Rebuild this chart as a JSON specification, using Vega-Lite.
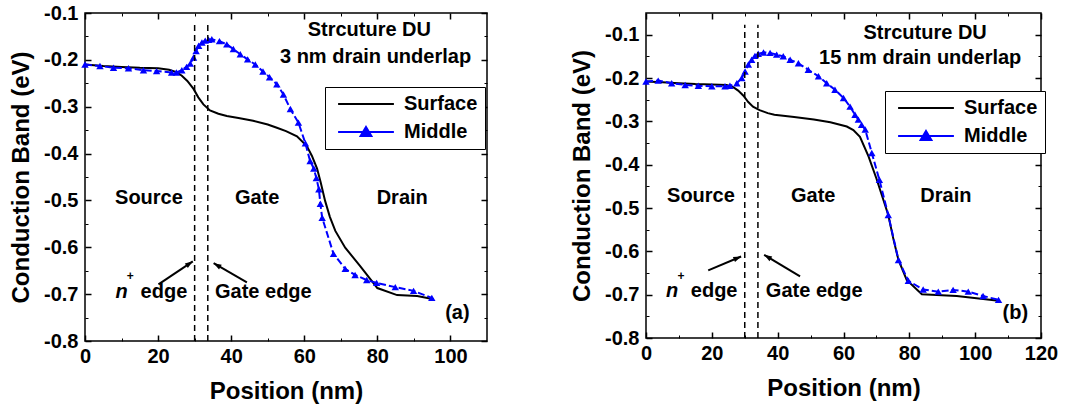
{
  "$schema": "https://vega.github.io/schema/vega-lite/v6.json",
  "background": "white",
  "padding": {"left": 8, "top": 2, "right": 0, "bottom": 0},
  "bounds": "flush",
  "spacing": 159,
  "datasets": {
    "a": [
      {"x": 0, "y": -0.210, "series": "Surface"}, {"x": 5, "y": -0.213, "series": "Surface"}, {"x": 10, "y": -0.215, "series": "Surface"}, {"x": 15, "y": -0.217, "series": "Surface"}, {"x": 20, "y": -0.218, "series": "Surface"}, {"x": 23, "y": -0.221, "series": "Surface"}, {"x": 25, "y": -0.226, "series": "Surface"}, {"x": 26.5, "y": -0.234, "series": "Surface"}, {"x": 28, "y": -0.245, "series": "Surface"}, {"x": 29.7, "y": -0.262, "series": "Surface"}, {"x": 31, "y": -0.280, "series": "Surface"}, {"x": 32.4, "y": -0.295, "series": "Surface"}, {"x": 34.2, "y": -0.308, "series": "Surface"}, {"x": 36.5, "y": -0.315, "series": "Surface"}, {"x": 38.8, "y": -0.320, "series": "Surface"}, {"x": 42, "y": -0.324, "series": "Surface"}, {"x": 46, "y": -0.330, "series": "Surface"}, {"x": 50, "y": -0.338, "series": "Surface"}, {"x": 52.5, "y": -0.345, "series": "Surface"}, {"x": 55, "y": -0.352, "series": "Surface"}, {"x": 58, "y": -0.363, "series": "Surface"}, {"x": 60.7, "y": -0.384, "series": "Surface"}, {"x": 62.1, "y": -0.405, "series": "Surface"}, {"x": 63.5, "y": -0.432, "series": "Surface"}, {"x": 64.5, "y": -0.462, "series": "Surface"}, {"x": 65.7, "y": -0.501, "series": "Surface"}, {"x": 67, "y": -0.535, "series": "Surface"}, {"x": 68.5, "y": -0.565, "series": "Surface"}, {"x": 71.2, "y": -0.601, "series": "Surface"}, {"x": 75.3, "y": -0.640, "series": "Surface"}, {"x": 80, "y": -0.687, "series": "Surface"}, {"x": 85.4, "y": -0.702, "series": "Surface"}, {"x": 90.9, "y": -0.704, "series": "Surface"}, {"x": 95.4, "y": -0.711, "series": "Surface"},
      {"x": 0, "y": -0.210, "series": "Middle"}, {"x": 4.1, "y": -0.213, "series": "Middle"}, {"x": 7.8, "y": -0.217, "series": "Middle"}, {"x": 11.9, "y": -0.218, "series": "Middle"}, {"x": 16, "y": -0.222, "series": "Middle"}, {"x": 19.6, "y": -0.224, "series": "Middle"}, {"x": 23.7, "y": -0.227, "series": "Middle"}, {"x": 25, "y": -0.227, "series": "Middle"}, {"x": 26.5, "y": -0.222, "series": "Middle"}, {"x": 27.8, "y": -0.215, "series": "Middle"}, {"x": 28.8, "y": -0.208, "series": "Middle"}, {"x": 29.7, "y": -0.195, "series": "Middle"}, {"x": 30.4, "y": -0.181, "series": "Middle"}, {"x": 31.1, "y": -0.170, "series": "Middle"}, {"x": 32, "y": -0.163, "series": "Middle"}, {"x": 32.9, "y": -0.159, "series": "Middle"}, {"x": 33.8, "y": -0.157, "series": "Middle"}, {"x": 34.7, "y": -0.156, "series": "Middle"}, {"x": 36.8, "y": -0.160, "series": "Middle"}, {"x": 38.8, "y": -0.167, "series": "Middle"}, {"x": 40.6, "y": -0.177, "series": "Middle"}, {"x": 42.5, "y": -0.188, "series": "Middle"}, {"x": 44.5, "y": -0.199, "series": "Middle"}, {"x": 46.6, "y": -0.210, "series": "Middle"}, {"x": 48.7, "y": -0.225, "series": "Middle"}, {"x": 50.5, "y": -0.237, "series": "Middle"}, {"x": 52.5, "y": -0.252, "series": "Middle"}, {"x": 54.3, "y": -0.274, "series": "Middle"}, {"x": 56.2, "y": -0.305, "series": "Middle"}, {"x": 58.4, "y": -0.334, "series": "Middle"}, {"x": 60.3, "y": -0.378, "series": "Middle"}, {"x": 61.6, "y": -0.416, "series": "Middle"}, {"x": 62.6, "y": -0.432, "series": "Middle"}, {"x": 63.3, "y": -0.452, "series": "Middle"}, {"x": 64, "y": -0.476, "series": "Middle"}, {"x": 64.4, "y": -0.507, "series": "Middle"}, {"x": 64.9, "y": -0.537, "series": "Middle"}, {"x": 68, "y": -0.614, "series": "Middle"}, {"x": 71.2, "y": -0.646, "series": "Middle"}, {"x": 73.9, "y": -0.659, "series": "Middle"}, {"x": 77.1, "y": -0.670, "series": "Middle"}, {"x": 79.8, "y": -0.676, "series": "Middle"}, {"x": 84.9, "y": -0.685, "series": "Middle"}, {"x": 89.9, "y": -0.693, "series": "Middle"}, {"x": 94.9, "y": -0.708, "series": "Middle"}
    ],
    "b": [
      {"x": 0, "y": -0.208, "series": "Surface"}, {"x": 5, "y": -0.210, "series": "Surface"}, {"x": 10, "y": -0.212, "series": "Surface"}, {"x": 15, "y": -0.214, "series": "Surface"}, {"x": 20, "y": -0.215, "series": "Surface"}, {"x": 24.5, "y": -0.216, "series": "Surface"}, {"x": 26.5, "y": -0.221, "series": "Surface"}, {"x": 28, "y": -0.229, "series": "Surface"}, {"x": 29.6, "y": -0.241, "series": "Surface"}, {"x": 31, "y": -0.255, "series": "Surface"}, {"x": 32.5, "y": -0.266, "series": "Surface"}, {"x": 34.5, "y": -0.274, "series": "Surface"}, {"x": 37, "y": -0.281, "series": "Surface"}, {"x": 39, "y": -0.285, "series": "Surface"}, {"x": 45, "y": -0.290, "series": "Surface"}, {"x": 51, "y": -0.296, "series": "Surface"}, {"x": 56, "y": -0.302, "series": "Surface"}, {"x": 61, "y": -0.312, "series": "Surface"}, {"x": 63, "y": -0.320, "series": "Surface"}, {"x": 65, "y": -0.336, "series": "Surface"}, {"x": 67.6, "y": -0.381, "series": "Surface"}, {"x": 70, "y": -0.432, "series": "Surface"}, {"x": 72.1, "y": -0.481, "series": "Surface"}, {"x": 73.6, "y": -0.516, "series": "Surface"}, {"x": 75.2, "y": -0.573, "series": "Surface"}, {"x": 76.7, "y": -0.620, "series": "Surface"}, {"x": 79.2, "y": -0.666, "series": "Surface"}, {"x": 83.8, "y": -0.699, "series": "Surface"}, {"x": 94.4, "y": -0.703, "series": "Surface"}, {"x": 107.1, "y": -0.714, "series": "Surface"},
      {"x": 0, "y": -0.208, "series": "Middle"}, {"x": 3.7, "y": -0.206, "series": "Middle"}, {"x": 7.8, "y": -0.212, "series": "Middle"}, {"x": 11.9, "y": -0.216, "series": "Middle"}, {"x": 15.9, "y": -0.218, "series": "Middle"}, {"x": 20, "y": -0.219, "series": "Middle"}, {"x": 24, "y": -0.219, "series": "Middle"}, {"x": 25.5, "y": -0.218, "series": "Middle"}, {"x": 27.6, "y": -0.212, "series": "Middle"}, {"x": 29.1, "y": -0.200, "series": "Middle"}, {"x": 30.1, "y": -0.185, "series": "Middle"}, {"x": 31.1, "y": -0.169, "series": "Middle"}, {"x": 32.1, "y": -0.158, "series": "Middle"}, {"x": 33.1, "y": -0.149, "series": "Middle"}, {"x": 34.1, "y": -0.144, "series": "Middle"}, {"x": 35.7, "y": -0.141, "series": "Middle"}, {"x": 37.7, "y": -0.142, "series": "Middle"}, {"x": 39.7, "y": -0.146, "series": "Middle"}, {"x": 41.7, "y": -0.150, "series": "Middle"}, {"x": 43.8, "y": -0.158, "series": "Middle"}, {"x": 46.3, "y": -0.166, "series": "Middle"}, {"x": 49.3, "y": -0.181, "series": "Middle"}, {"x": 52.4, "y": -0.196, "series": "Middle"}, {"x": 54.9, "y": -0.212, "series": "Middle"}, {"x": 57.4, "y": -0.227, "series": "Middle"}, {"x": 60, "y": -0.246, "series": "Middle"}, {"x": 62, "y": -0.266, "series": "Middle"}, {"x": 63.5, "y": -0.285, "series": "Middle"}, {"x": 64.5, "y": -0.296, "series": "Middle"}, {"x": 65.5, "y": -0.308, "series": "Middle"}, {"x": 66.6, "y": -0.319, "series": "Middle"}, {"x": 68.6, "y": -0.373, "series": "Middle"}, {"x": 70.9, "y": -0.435, "series": "Middle"}, {"x": 73.6, "y": -0.516, "series": "Middle"}, {"x": 76.7, "y": -0.620, "series": "Middle"}, {"x": 79.7, "y": -0.668, "series": "Middle"}, {"x": 84.2, "y": -0.688, "series": "Middle"}, {"x": 88.8, "y": -0.693, "series": "Middle"}, {"x": 93.3, "y": -0.689, "series": "Middle"}, {"x": 97.9, "y": -0.693, "series": "Middle"}, {"x": 102.4, "y": -0.703, "series": "Middle"}, {"x": 107.1, "y": -0.712, "series": "Middle"}
    ],
    "edgesA": [{"x": 30, "y": -0.8, "y2": -0.124}, {"x": 33.6, "y": -0.8, "y2": -0.124}],
    "edgesB": [{"x": 30, "y": -0.8, "y2": -0.077}, {"x": 34, "y": -0.8, "y2": -0.077}],
    "arrowsA": [{"id": "nplus", "x": 20.1, "y": -0.679, "x2": 29.5, "y2": -0.630}, {"id": "gate", "x": 44.3, "y": -0.675, "x2": 35.2, "y2": -0.634}],
    "arrowsB": [{"id": "nplus", "x": 18.9, "y": -0.644, "x2": 28.9, "y2": -0.612}, {"id": "gate", "x": 46.8, "y": -0.658, "x2": 35.9, "y2": -0.608}],
    "textA": [
      {"kind": "main", "label": "Strcuture DU", "x": 77.8, "y": -0.149},
      {"kind": "main", "label": "3 nm drain underlap", "x": 79.5, "y": -0.206},
      {"kind": "main", "label": "Source", "x": 17.5, "y": -0.507},
      {"kind": "main", "label": "Gate", "x": 47.1, "y": -0.507},
      {"kind": "main", "label": "Drain", "x": 86.8, "y": -0.507},
      {"kind": "main", "label": "edge", "x": 21.6, "y": -0.708},
      {"kind": "main", "label": "Gate edge", "x": 48.8, "y": -0.708},
      {"kind": "main", "label": "(a)", "x": 101.9, "y": -0.754},
      {"kind": "italic", "label": "n", "x": 10, "y": -0.708},
      {"kind": "sup", "label": "+", "x": 12.4, "y": -0.670}
    ],
    "textB": [
      {"kind": "main", "label": "Strcuture DU", "x": 84.8, "y": -0.110},
      {"kind": "main", "label": "15 nm drain underlap", "x": 83.3, "y": -0.167},
      {"kind": "main", "label": "Source", "x": 16.7, "y": -0.487},
      {"kind": "main", "label": "Gate", "x": 50.8, "y": -0.487},
      {"kind": "main", "label": "Drain", "x": 91.1, "y": -0.487},
      {"kind": "main", "label": "edge", "x": 20.7, "y": -0.705},
      {"kind": "main", "label": "Gate edge", "x": 51.1, "y": -0.705},
      {"kind": "main", "label": "(b)", "x": 112.2, "y": -0.756},
      {"kind": "italic", "label": "n", "x": 7.9, "y": -0.705},
      {"kind": "sup", "label": "+", "x": 10.6, "y": -0.665}
    ]
  },
  "hconcat": [
    {
      "width": 402,
      "height": 328,
      "resolve": {"axis": {"x": "independent", "y": "independent"}},
      "layer": [
        {
          "data": {"name": "a"},
          "transform": [{"filter": "datum.series === 'Surface'"}],
          "mark": {"type": "line", "strokeWidth": 2},
          "encoding": {
            "x": {"field": "x", "type": "quantitative", "scale": {"domain": [0, 110], "nice": false, "zero": false},
              "axis": {"orient": "bottom", "values": [0, 20, 40, 60, 80, 100], "tickSize": -6, "labelPadding": 11, "labelFlush": false, "title": "Position (nm)", "titlePadding": 13}},
            "y": {"field": "y", "type": "quantitative", "scale": {"domain": [-0.8, -0.1], "nice": false, "zero": false},
              "axis": {"orient": "left", "values": [-0.8, -0.7, -0.6, -0.5, -0.4, -0.3, -0.2, -0.1], "tickSize": -6, "labelPadding": 13, "labelFlush": false, "labelExpr": "'-' + format(abs(datum.value), '.1f')", "title": "Conduction Band (eV)", "titlePadding": 10}},
            "color": {"field": "series", "type": "nominal", "scale": {"domain": ["Surface", "Middle"], "range": ["black", "blue"]},
              "legend": {"orient": "none", "legendX": 240, "legendY": 74, "title": null, "padding": 7, "rowPadding": 8, "symbolSize": 324, "symbolOffset": 24, "labelOffset": 28,
                "labelFont": "Liberation Sans", "labelFontSize": 20, "labelFontWeight": "bold", "labelColor": "black", "strokeColor": "black", "fillColor": "white", "cornerRadius": 0,
                "encode": {"symbols": {"update": {
                  "shape": {"signal": "datum.value === 'Middle' ? 'M-3.1,0H3.1M0,-0.55L0.6,0.45H-0.6Z' : 'M-3.1,0H3.1'"},
                  "fill": {"signal": "datum.value === 'Middle' ? 'blue' : 'transparent'"},
                  "stroke": {"signal": "datum.value === 'Middle' ? 'blue' : 'black'"},
                  "strokeWidth": {"value": 2}, "opacity": {"value": 1}}}}}}
          }
        },
        {
          "data": {"name": "a"},
          "transform": [{"filter": "datum.series === 'Middle'"}],
          "mark": {"type": "line", "strokeWidth": 2, "color": "blue", "strokeDash": [7, 3]},
          "encoding": {
            "x": {"field": "x", "type": "quantitative", "scale": {"domain": [0, 110], "nice": false, "zero": false}, "axis": null},
            "y": {"field": "y", "type": "quantitative", "scale": {"domain": [-0.8, -0.1], "nice": false, "zero": false}, "axis": null}
          }
        },
        {
          "data": {"name": "a"},
          "transform": [{"filter": "datum.series === 'Middle'"}],
          "mark": {"type": "point", "shape": "triangle-up", "filled": true, "size": 55, "opacity": 1, "color": "blue"},
          "encoding": {
            "x": {"field": "x", "type": "quantitative", "scale": {"domain": [0, 110], "nice": false, "zero": false},
              "axis": {"orient": "bottom", "values": [10, 30, 50, 70, 90], "tickSize": -3, "tickWidth": 1, "labels": false, "title": null}},
            "y": {"field": "y", "type": "quantitative", "scale": {"domain": [-0.8, -0.1], "nice": false, "zero": false},
              "axis": {"orient": "left", "values": [-0.75, -0.65, -0.55, -0.45, -0.35, -0.25, -0.15], "tickSize": -3, "tickWidth": 1, "labels": false, "title": null}}
          }
        },
        {
          "data": {"name": "edgesA"},
          "mark": {"type": "rule", "color": "black", "strokeWidth": 1.5, "strokeDash": [6, 4]},
          "encoding": {
            "x": {"field": "x", "type": "quantitative", "scale": {"domain": [0, 110], "nice": false, "zero": false},
              "axis": {"orient": "top", "values": [0, 20, 40, 60, 80, 100], "tickSize": -6, "labels": false, "title": null}},
            "y": {"field": "y", "type": "quantitative", "scale": {"domain": [-0.8, -0.1], "nice": false, "zero": false},
              "axis": {"orient": "right", "values": [-0.8, -0.7, -0.6, -0.5, -0.4, -0.3, -0.2, -0.1], "tickSize": -6, "labels": false, "title": null}},
            "y2": {"field": "y2"}
          }
        },
        {
          "data": {"name": "arrowsA"},
          "mark": {"type": "rule", "color": "black", "strokeWidth": 2},
          "encoding": {
            "x": {"field": "x", "type": "quantitative", "scale": {"domain": [0, 110], "nice": false, "zero": false},
              "axis": {"orient": "top", "values": [10, 30, 50, 70, 90], "tickSize": -3, "tickWidth": 1, "labels": false, "title": null}},
            "y": {"field": "y", "type": "quantitative", "scale": {"domain": [-0.8, -0.1], "nice": false, "zero": false},
              "axis": {"orient": "right", "values": [-0.75, -0.65, -0.55, -0.45, -0.35, -0.25, -0.15], "tickSize": -3, "tickWidth": 1, "labels": false, "title": null}},
            "x2": {"field": "x2"},
            "y2": {"field": "y2"}
          }
        },
        {
          "data": {"name": "arrowsA"},
          "transform": [{"filter": "datum.id === 'nplus'"}],
          "mark": {"type": "point", "shape": "M0,0L0.45,1.3L-0.45,1.3Z", "filled": true, "color": "black", "size": 144, "opacity": 1, "angle": 56},
          "encoding": {
            "x": {"field": "x2", "type": "quantitative", "scale": {"domain": [0, 110], "nice": false, "zero": false}, "axis": null},
            "y": {"field": "y2", "type": "quantitative", "scale": {"domain": [-0.8, -0.1], "nice": false, "zero": false}, "axis": null}
          }
        },
        {
          "data": {"name": "arrowsA"},
          "transform": [{"filter": "datum.id === 'gate'"}],
          "mark": {"type": "point", "shape": "M0,0L0.45,1.3L-0.45,1.3Z", "filled": true, "color": "black", "size": 144, "opacity": 1, "angle": 300},
          "encoding": {
            "x": {"field": "x2", "type": "quantitative", "scale": {"domain": [0, 110], "nice": false, "zero": false}, "axis": null},
            "y": {"field": "y2", "type": "quantitative", "scale": {"domain": [-0.8, -0.1], "nice": false, "zero": false}, "axis": null}
          }
        },
        {
          "data": {"name": "textA"},
          "transform": [{"filter": "datum.kind === 'main'"}],
          "mark": {"type": "text", "font": "Liberation Sans", "fontSize": 20, "fontWeight": "bold", "color": "black", "align": "center", "baseline": "alphabetic"},
          "encoding": {
            "x": {"field": "x", "type": "quantitative", "scale": {"domain": [0, 110], "nice": false, "zero": false}, "axis": null},
            "y": {"field": "y", "type": "quantitative", "scale": {"domain": [-0.8, -0.1], "nice": false, "zero": false}, "axis": null},
            "text": {"field": "label"}
          }
        },
        {
          "data": {"name": "textA"},
          "transform": [{"filter": "datum.kind === 'italic'"}],
          "mark": {"type": "text", "font": "Liberation Sans", "fontSize": 20, "fontWeight": "bold", "fontStyle": "italic", "color": "black", "align": "center", "baseline": "alphabetic"},
          "encoding": {
            "x": {"field": "x", "type": "quantitative", "scale": {"domain": [0, 110], "nice": false, "zero": false}, "axis": null},
            "y": {"field": "y", "type": "quantitative", "scale": {"domain": [-0.8, -0.1], "nice": false, "zero": false}, "axis": null},
            "text": {"field": "label"}
          }
        },
        {
          "data": {"name": "textA"},
          "transform": [{"filter": "datum.kind === 'sup'"}],
          "mark": {"type": "text", "font": "Liberation Sans", "fontSize": 12, "fontWeight": "bold", "color": "black", "align": "center", "baseline": "alphabetic"},
          "encoding": {
            "x": {"field": "x", "type": "quantitative", "scale": {"domain": [0, 110], "nice": false, "zero": false}, "axis": null},
            "y": {"field": "y", "type": "quantitative", "scale": {"domain": [-0.8, -0.1], "nice": false, "zero": false}, "axis": null},
            "text": {"field": "label"}
          }
        }
      ]
    },
    {
      "width": 395,
      "height": 325,
      "resolve": {"axis": {"x": "independent", "y": "independent"}},
      "layer": [
        {
          "data": {"name": "b"},
          "transform": [{"filter": "datum.series === 'Surface'"}],
          "mark": {"type": "line", "strokeWidth": 2},
          "encoding": {
            "x": {"field": "x", "type": "quantitative", "scale": {"domain": [0, 120], "nice": false, "zero": false},
              "axis": {"orient": "bottom", "values": [0, 20, 40, 60, 80, 100, 120], "tickSize": -6, "labelPadding": 11, "labelFlush": false, "title": "Position (nm)", "titlePadding": 13}},
            "y": {"field": "y", "type": "quantitative", "scale": {"domain": [-0.8, -0.05], "nice": false, "zero": false},
              "axis": {"orient": "left", "values": [-0.8, -0.7, -0.6, -0.5, -0.4, -0.3, -0.2, -0.1], "tickSize": -6, "labelPadding": 13, "labelFlush": false, "labelExpr": "'-' + format(abs(datum.value), '.1f')", "title": "Conduction Band (eV)", "titlePadding": 10}},
            "color": {"field": "series", "type": "nominal", "scale": {"domain": ["Surface", "Middle"], "range": ["black", "blue"]},
              "legend": {"orient": "none", "legendX": 239, "legendY": 78, "title": null, "padding": 7, "rowPadding": 8, "symbolSize": 324, "symbolOffset": 24, "labelOffset": 28,
                "labelFont": "Liberation Sans", "labelFontSize": 20, "labelFontWeight": "bold", "labelColor": "black", "strokeColor": "black", "fillColor": "white", "cornerRadius": 0,
                "encode": {"symbols": {"update": {
                  "shape": {"signal": "datum.value === 'Middle' ? 'M-3.1,0H3.1M0,-0.55L0.6,0.45H-0.6Z' : 'M-3.1,0H3.1'"},
                  "fill": {"signal": "datum.value === 'Middle' ? 'blue' : 'transparent'"},
                  "stroke": {"signal": "datum.value === 'Middle' ? 'blue' : 'black'"},
                  "strokeWidth": {"value": 2}, "opacity": {"value": 1}}}}}}
          }
        },
        {
          "data": {"name": "b"},
          "transform": [{"filter": "datum.series === 'Middle'"}],
          "mark": {"type": "line", "strokeWidth": 2, "color": "blue", "strokeDash": [7, 3]},
          "encoding": {
            "x": {"field": "x", "type": "quantitative", "scale": {"domain": [0, 120], "nice": false, "zero": false}, "axis": null},
            "y": {"field": "y", "type": "quantitative", "scale": {"domain": [-0.8, -0.05], "nice": false, "zero": false}, "axis": null}
          }
        },
        {
          "data": {"name": "b"},
          "transform": [{"filter": "datum.series === 'Middle'"}],
          "mark": {"type": "point", "shape": "triangle-up", "filled": true, "size": 55, "opacity": 1, "color": "blue"},
          "encoding": {
            "x": {"field": "x", "type": "quantitative", "scale": {"domain": [0, 120], "nice": false, "zero": false},
              "axis": {"orient": "bottom", "values": [10, 30, 50, 70, 90, 110], "tickSize": -3, "tickWidth": 1, "labels": false, "title": null}},
            "y": {"field": "y", "type": "quantitative", "scale": {"domain": [-0.8, -0.05], "nice": false, "zero": false},
              "axis": {"orient": "left", "values": [-0.75, -0.65, -0.55, -0.45, -0.35, -0.25, -0.15], "tickSize": -3, "tickWidth": 1, "labels": false, "title": null}}
          }
        },
        {
          "data": {"name": "edgesB"},
          "mark": {"type": "rule", "color": "black", "strokeWidth": 1.5, "strokeDash": [6, 4]},
          "encoding": {
            "x": {"field": "x", "type": "quantitative", "scale": {"domain": [0, 120], "nice": false, "zero": false},
              "axis": {"orient": "top", "values": [0, 20, 40, 60, 80, 100, 120], "tickSize": -6, "labels": false, "title": null}},
            "y": {"field": "y", "type": "quantitative", "scale": {"domain": [-0.8, -0.05], "nice": false, "zero": false},
              "axis": {"orient": "right", "values": [-0.8, -0.7, -0.6, -0.5, -0.4, -0.3, -0.2, -0.1], "tickSize": -6, "labels": false, "title": null}},
            "y2": {"field": "y2"}
          }
        },
        {
          "data": {"name": "arrowsB"},
          "mark": {"type": "rule", "color": "black", "strokeWidth": 2},
          "encoding": {
            "x": {"field": "x", "type": "quantitative", "scale": {"domain": [0, 120], "nice": false, "zero": false},
              "axis": {"orient": "top", "values": [10, 30, 50, 70, 90, 110], "tickSize": -3, "tickWidth": 1, "labels": false, "title": null}},
            "y": {"field": "y", "type": "quantitative", "scale": {"domain": [-0.8, -0.05], "nice": false, "zero": false},
              "axis": {"orient": "right", "values": [-0.75, -0.65, -0.55, -0.45, -0.35, -0.25, -0.15], "tickSize": -3, "tickWidth": 1, "labels": false, "title": null}},
            "x2": {"field": "x2"},
            "y2": {"field": "y2"}
          }
        },
        {
          "data": {"name": "arrowsB"},
          "transform": [{"filter": "datum.id === 'nplus'"}],
          "mark": {"type": "point", "shape": "M0,0L0.45,1.3L-0.45,1.3Z", "filled": true, "color": "black", "size": 144, "opacity": 1, "angle": 67},
          "encoding": {
            "x": {"field": "x2", "type": "quantitative", "scale": {"domain": [0, 120], "nice": false, "zero": false}, "axis": null},
            "y": {"field": "y2", "type": "quantitative", "scale": {"domain": [-0.8, -0.05], "nice": false, "zero": false}, "axis": null}
          }
        },
        {
          "data": {"name": "arrowsB"},
          "transform": [{"filter": "datum.id === 'gate'"}],
          "mark": {"type": "point", "shape": "M0,0L0.45,1.3L-0.45,1.3Z", "filled": true, "color": "black", "size": 144, "opacity": 1, "angle": 301},
          "encoding": {
            "x": {"field": "x2", "type": "quantitative", "scale": {"domain": [0, 120], "nice": false, "zero": false}, "axis": null},
            "y": {"field": "y2", "type": "quantitative", "scale": {"domain": [-0.8, -0.05], "nice": false, "zero": false}, "axis": null}
          }
        },
        {
          "data": {"name": "textB"},
          "transform": [{"filter": "datum.kind === 'main'"}],
          "mark": {"type": "text", "font": "Liberation Sans", "fontSize": 20, "fontWeight": "bold", "color": "black", "align": "center", "baseline": "alphabetic"},
          "encoding": {
            "x": {"field": "x", "type": "quantitative", "scale": {"domain": [0, 120], "nice": false, "zero": false}, "axis": null},
            "y": {"field": "y", "type": "quantitative", "scale": {"domain": [-0.8, -0.05], "nice": false, "zero": false}, "axis": null},
            "text": {"field": "label"}
          }
        },
        {
          "data": {"name": "textB"},
          "transform": [{"filter": "datum.kind === 'italic'"}],
          "mark": {"type": "text", "font": "Liberation Sans", "fontSize": 20, "fontWeight": "bold", "fontStyle": "italic", "color": "black", "align": "center", "baseline": "alphabetic"},
          "encoding": {
            "x": {"field": "x", "type": "quantitative", "scale": {"domain": [0, 120], "nice": false, "zero": false}, "axis": null},
            "y": {"field": "y", "type": "quantitative", "scale": {"domain": [-0.8, -0.05], "nice": false, "zero": false}, "axis": null},
            "text": {"field": "label"}
          }
        },
        {
          "data": {"name": "textB"},
          "transform": [{"filter": "datum.kind === 'sup'"}],
          "mark": {"type": "text", "font": "Liberation Sans", "fontSize": 12, "fontWeight": "bold", "color": "black", "align": "center", "baseline": "alphabetic"},
          "encoding": {
            "x": {"field": "x", "type": "quantitative", "scale": {"domain": [0, 120], "nice": false, "zero": false}, "axis": null},
            "y": {"field": "y", "type": "quantitative", "scale": {"domain": [-0.8, -0.05], "nice": false, "zero": false}, "axis": null},
            "text": {"field": "label"}
          }
        }
      ]
    }
  ],
  "resolve": {"scale": {"color": "independent"}, "legend": {"color": "independent"}},
  "config": {
    "view": {"stroke": "black", "strokeWidth": 1.5},
    "axis": {"labelFont": "Liberation Sans", "labelFontSize": 20, "labelFontWeight": "bold", "labelColor": "black", "titleFont": "Liberation Sans", "titleFontSize": 24, "titleFontWeight": "bold", "titleColor": "black", "tickColor": "black", "tickWidth": 1.5, "domain": false, "grid": false}
  }
}
